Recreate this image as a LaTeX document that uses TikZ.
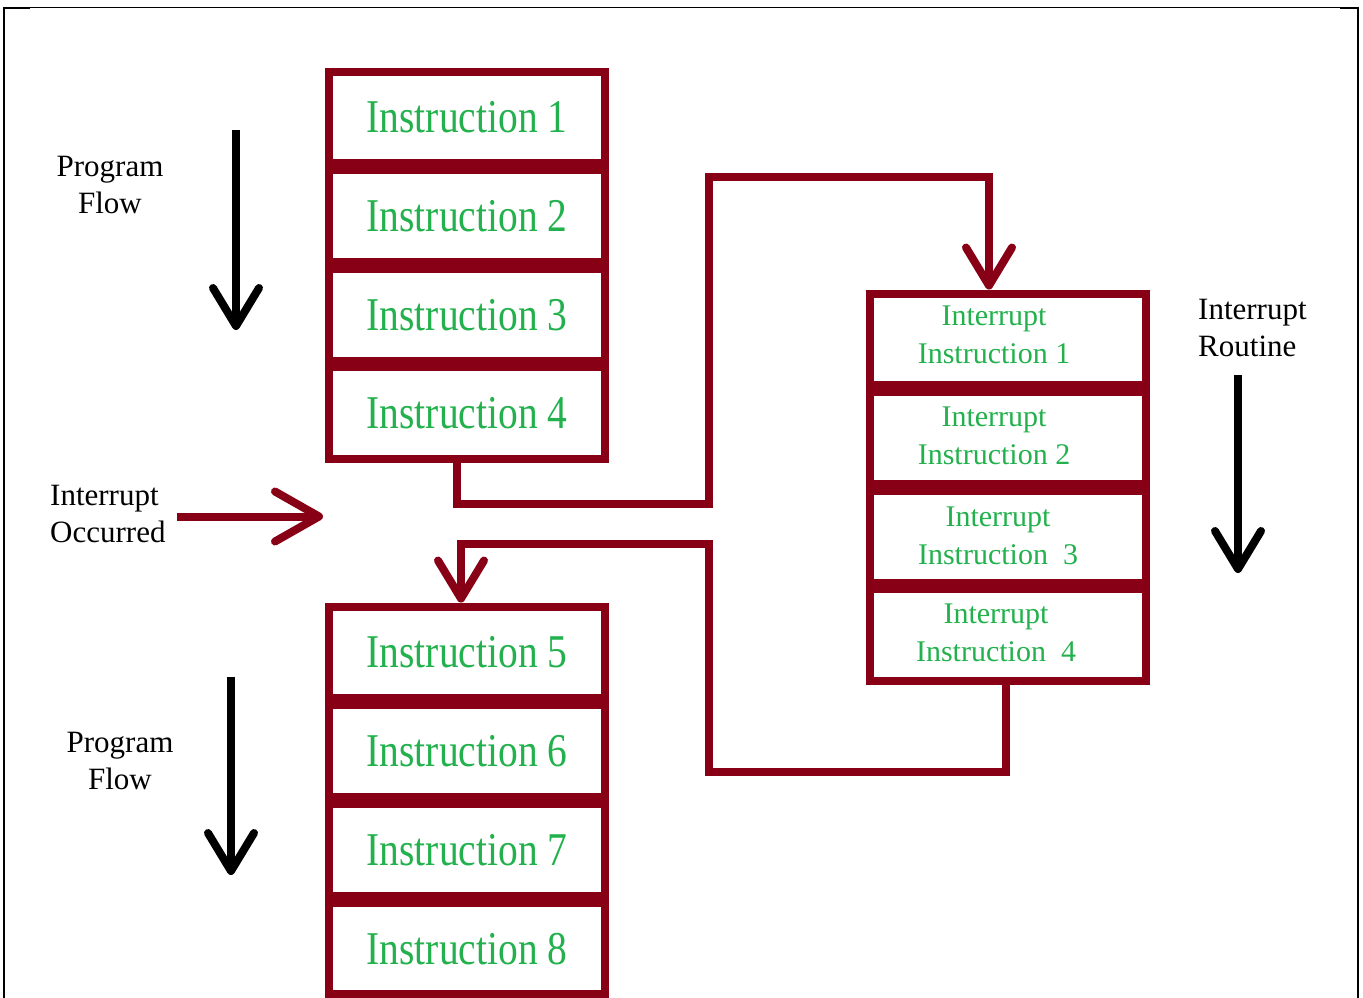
\documentclass[tikz,border=0pt]{standalone}
\usepackage{fontspec}
\setmainfont{Liberation Serif}
\usetikzlibrary{arrows.meta}
\definecolor{pathred}{RGB}{136,0,21}
\definecolor{instgreen}{RGB}{34,177,76}
\newcommand{\narrowtext}[1]{\scalebox{0.84}[1]{#1}}

\begin{document}
\begin{tikzpicture}[x=1pt,y=-1pt,%
% common options for instruction blocks:
block/.style = {draw=pathred, line width=8pt, minimum width=276pt,
            minimum height=91.75pt, inner sep=0, text=instgreen,
            font=\fontsize{47}{50}\selectfont},
% texts in the interrupt blocks:
itext/.style = {text=instgreen, align=center, inner sep=0,
            font=\fontsize{30}{38}\selectfont},
% black side notes:
note/.style = {align=center, inner sep=0, font=\fontsize{31}{37}\selectfont},
% arrows:
link/.style = {pathred, line width=8pt, -{Straight Barb[length=38pt,width=46pt,round]}},
flow/.style = {black, line width=8pt, -{Straight Barb[length=38pt,width=46pt,round]}}]
\useasboundingbox (0,0) rectangle (1363,998);
% frame
\draw[line width=2pt] (4,998) -- (4,8) -- (30,8);
\draw[line width=1pt] (30,8) -- (1340,8);
\draw[line width=2pt] (1340,8) -- (1358,8) -- (1358,998);
% main program
\node[block] (A1) at (467,117.4) {\narrowtext{Instruction 1}};
\node[block] (A2) at (467,216.1) {\narrowtext{Instruction 2}};
\node[block] (A3) at (467,314.9) {\narrowtext{Instruction 3}};
\node[block] (A4) at (467,413.1) {\narrowtext{Instruction 4}};
\node[block] (B1) at (467,652.4) {\narrowtext{Instruction 5}};
\node[block] (B2) at (467,751.1) {\narrowtext{Instruction 6}};
\node[block] (B3) at (467,849.9) {\narrowtext{Instruction 7}};
\node[block] (B4) at (467,948.6) {\narrowtext{Instruction 8}};
% interrupt routine
\node[block] (R1) at (1008,339.4) {};
\node[block] (R2) at (1008,438.1) {};
\node[block] (R3) at (1008,536.9) {};
\node[block] (R4) at (1008,635.1) {};
\node[itext] (T1) at ([xshift=-14pt,yshift=5pt]R1.center) {Interrupt\\Instruction 1};
\node[itext] (T2) at ([xshift=-14pt,yshift=2pt]R2.center) {Interrupt\\Instruction 2};
\node[itext] (T3) at ([xshift=-10pt,yshift=1pt]R3.center) {Interrupt\\Instruction~~3};
\node[itext] (T4) at ([xshift=-12pt,yshift=2pt]R4.center) {Interrupt\\Instruction~~4};
% notes
\node[note] (N1) at (110,185) {Program\\Flow};
\node[note] (N2) at (120,761) {Program\\Flow};
\node[note,align=left,anchor=west] (N3) at (50,514) {Interrupt\\Occurred};
\node[note,align=left,anchor=west] (N4) at (1198,328) {Interrupt\\Routine};
\coordinate (F1a) at (236,130);
\coordinate (F1b) at (236,330);
\coordinate (F2a) at (231,677);
\coordinate (F2b) at (231,875);
\coordinate (F3a) at (1238,375);
\coordinate (F3b) at (1238,573);
\coordinate (Oa) at (177,516.5);
\coordinate (Ob) at (323,516.5);
\draw[flow] (F1a) -- (F1b);
\draw[flow] (F2a) -- (F2b);
\draw[flow] (F3a) -- (F3b);
\draw[link,-{Straight Barb[length=44pt,width=50pt,round]}] (Oa) -- (Ob);
% jump to the routine and back
\coordinate (J1) at (709,177);
\coordinate (J2) at (709,543.5);
\draw[link] ([xshift=-10pt]A4.south) -- ++(0,41) -| (J1) -| ([xshift=-19pt]R1.north);
\draw[link] ([xshift=-2pt]R4.south) -- ++(0,87.5) -| (J2) -| ([xshift=-6pt]B1.north);
\end{tikzpicture}
\end{document}
